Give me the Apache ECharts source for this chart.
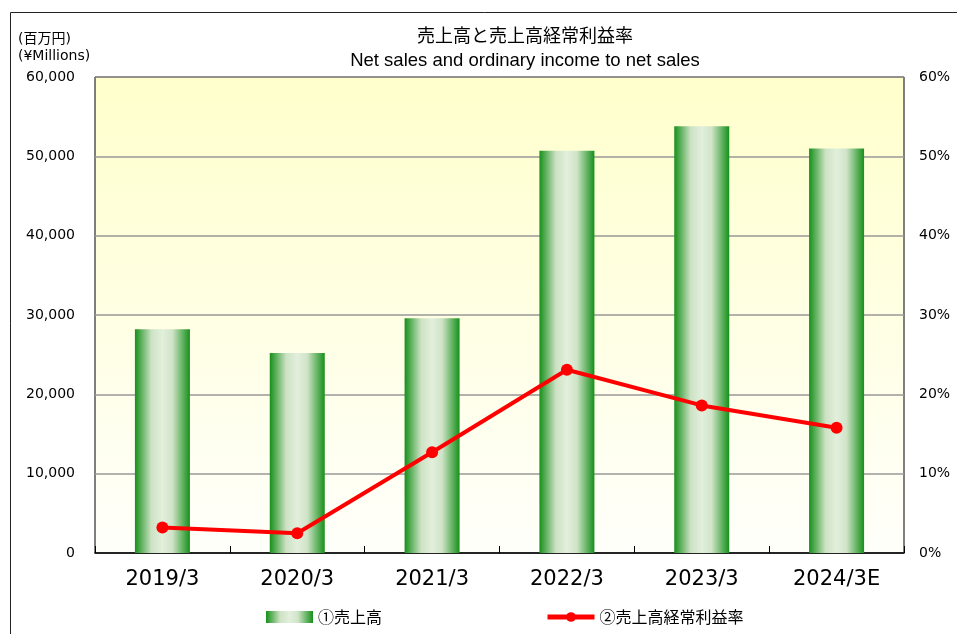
<!DOCTYPE html>
<html>
<head>
<meta charset="utf-8">
<script src="https://cdn.jsdelivr.net/npm/echarts@6/dist/echarts.min.js"></script>
<style>
  html, body { margin: 0; padding: 0; background: #fff; }
  #chart { width: 957px; height: 634px; }
</style>
</head>
<body>
<div id="chart"></div>
<script>
const categories = ['2019/3', '2020/3', '2021/3', '2022/3', '2023/3', '2024/3E']
const netSales = [28200, 25200, 29600, 50700, 53800, 51000]   // 百万円
const ordinaryMargin = [3.2, 2.5, 12.7, 23.1, 18.6, 15.8]      // %
const leftTicks = { min: 0, max: 60000, interval: 10000 }
const rightTicks = { min: 0, max: 60, interval: 10 }

const axisFont = '"DejaVu Sans", "Noto Sans CJK JP", sans-serif'
const jpFont = '"Noto Sans CJK JP", "DejaVu Sans", sans-serif'
const titleFont = '"Liberation Sans", "Noto Sans CJK JP", sans-serif'

const chart = echarts.init(document.getElementById('chart'), null, { renderer: 'canvas' })

const barFill = new echarts.graphic.LinearGradient(0, 0, 1, 0, [
  { offset: 0, color: '#16901a' },
  { offset: 0.3, color: '#cde2c4' },
  { offset: 0.5, color: '#e2efdc' },
  { offset: 0.68, color: '#d0e4c8' },
  { offset: 1, color: '#16901a' },
])

chart.setOption({
  backgroundColor: '#ffffff',
  animation: false,
  textStyle: { fontFamily: axisFont },
  title: [
    {
      text: '売上高と売上高経常利益率',
      left: 520, top: 21, textAlign: 'center',
      textStyle: { fontSize: 18, fontWeight: 'normal', color: '#000', fontFamily: jpFont },
    },
    {
      text: 'Net sales and ordinary income to net sales',
      left: 520, top: 47, textAlign: 'center',
      textStyle: { fontSize: 18.5, fontWeight: 'normal', color: '#000', fontFamily: titleFont },
    },
    {
      text: '(百万円)\n(¥Millions)',
      left: 13, top: 26,
      textStyle: { fontSize: 14, fontWeight: 'normal', color: '#000', lineHeight: 17, fontFamily: axisFont },
    },
  ],
  graphic: [
    {
      type: 'rect', left: 8, top: 10, silent: true,
      shape: { width: 960, height: 640 },
      style: { fill: 'none', stroke: '#222', lineWidth: 1 },
    },
  ],
  legend: {
    left: 261, top: 604,
    itemGap: 163, itemWidth: 47, itemHeight: 12,
    textStyle: { fontSize: 16, color: '#000', fontFamily: jpFont },
    data: [
      { name: '①売上高', icon: 'rect' },
      { name: '②売上高経常利益率', lineStyle: { width: 5 } },
    ],
  },
  grid: {
    left: 95, right: 53, top: 77, bottom: 81,
    show: true,
    borderColor: '#000', borderWidth: 1,
    backgroundColor: new echarts.graphic.LinearGradient(0, 0, 0, 1, [
      { offset: 0, color: '#ffffcc' },
      { offset: 1, color: '#fffffb' },
    ]),
  },
  xAxis: {
    type: 'category',
    data: categories,
    boundaryGap: true,
    axisLine: { lineStyle: { color: '#000', width: 1.5 } },
    axisTick: { show: true, inside: true, length: 7, lineStyle: { color: '#000' } },
    axisLabel: { color: '#000', fontSize: 21, margin: 16, fontFamily: axisFont },
  },
  yAxis: [
    {
      type: 'value',
      ...leftTicks,
      axisLine: { show: false },
      axisTick: { show: false },
      splitLine: { lineStyle: { color: '#999', width: 1.5 } },
      axisLabel: {
        color: '#000', fontSize: 14, margin: 20,
        formatter: v => v.toLocaleString('en-US'),
      },
    },
    {
      type: 'value',
      ...rightTicks,
      position: 'right',
      axisLine: { show: false },
      axisTick: { show: false },
      splitLine: { show: false },
      axisLabel: { color: '#000', fontSize: 14, margin: 15, formatter: '{value}%' },
    },
  ],
  series: [
    {
      name: '①売上高',
      type: 'bar',
      data: netSales,
      barWidth: 55,
      itemStyle: { color: barFill },
      z: 2,
    },
    {
      name: '②売上高経常利益率',
      type: 'line',
      yAxisIndex: 1,
      data: ordinaryMargin,
      symbol: 'circle',
      symbolSize: 12,
      lineStyle: { color: '#ff0000', width: 4 },
      itemStyle: { color: '#ff0000' },
      z: 5,
    },
  ],
})
</script>
</body>
</html>
